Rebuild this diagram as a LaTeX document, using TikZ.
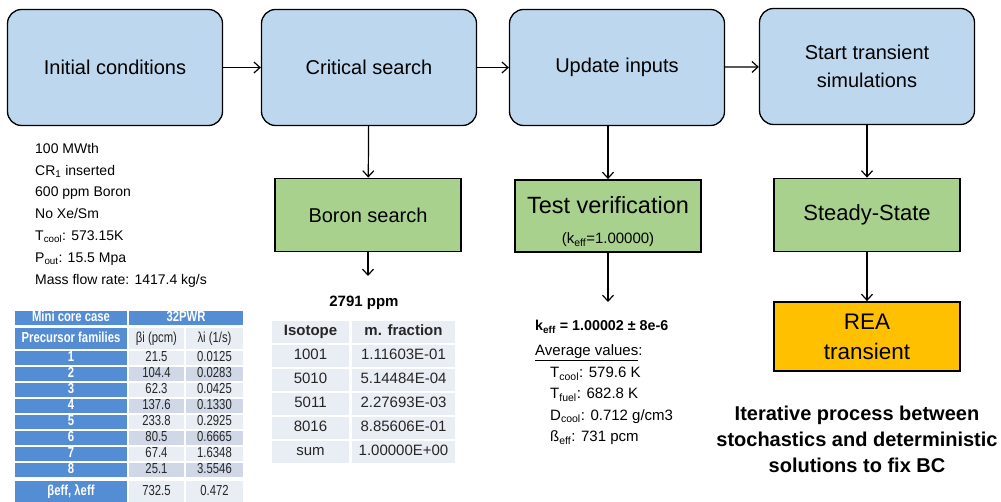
\documentclass[tikz,border=0pt]{standalone}
\usepackage{fontspec}
\usetikzlibrary{arrows.meta}
\setmainfont{Liberation Sans}
\newfontfamily\narrowfont[FakeStretch=0.78]{Liberation Sans}

\definecolor{boxblue}{RGB}{189,215,238}
\definecolor{boxgreen}{RGB}{169,209,142}
\definecolor{boxorange}{RGB}{255,192,0}
\definecolor{tabhead}{RGB}{84,141,212}
\definecolor{tablight}{RGB}{233,237,244}
\definecolor{tabdark}{RGB}{208,216,232}
\definecolor{ink}{RGB}{38,38,38}

\tikzset{
  stage/.style={draw, line width=1.3pt, rounded corners=14pt, fill=boxblue,
    minimum width=215pt, minimum height=116pt, align=center,
    font=\fontsize{20}{28}\selectfont},
  result/.style={draw, line width=1.8pt, fill=boxgreen, minimum width=186pt,
    minimum height=73pt, align=center},
  final/.style={draw, line width=1.8pt, fill=boxorange, minimum width=186pt,
    minimum height=69pt, align=center, font=\fontsize{22.5}{30}\selectfont},
  flow/.style={-{Straight Barb[length=6pt, width=11pt]}, line width=1.2pt},
  hcell/.style={fill=tabhead, text=white, inner sep=0pt, text height=10pt,
    text depth=2.5pt, font=\narrowfont\bfseries\fontsize{14.5}{16}\selectfont},
  dcell/.style={inner sep=0pt, text=ink, text height=10pt, text depth=2.5pt,
    font=\narrowfont\fontsize{14.5}{16}\selectfont},
  tcell/.style={fill=tablight, inner sep=0pt, text=ink, minimum height=22pt,
    text height=10.5pt, text depth=3pt, font=\fontsize{15}{18}\selectfont}
}

\begin{document}
\begin{tikzpicture}[x=1pt, y=-1pt]
  \useasboundingbox (0,0) rectangle (1001,502);

  \node[stage] (init) at (115,67.5) {Initial conditions};
  \node[stage] (crit) at (369,67.5) {Critical search};
  \node[stage] (upd) at (617,67.5) {Update inputs};
  \node[stage] (start) at (867,66.5) {Start transient\\simulations};

  \node[result, font=\fontsize{20}{24}\selectfont] (boron) at (368,215) {Boron search};
  \node[result, minimum height=72pt, font=\fontsize{23.5}{30}\selectfont] (test) at (608,216)
    {\rule{0pt}{29pt}Test verification\\{\fontsize{15}{18}\selectfont (k\textsubscript{eff}=1.00000)}};
  \node[result, font=\fontsize{22}{28}\selectfont] (steady) at (867,215) {Steady-State};
  \node[final] (rea) at (867,336.5) {REA\\transient};

  \coordinate (boronout) at (368,276);
  \coordinate (testout) at (608,302);

  \draw[flow] (init) -- (crit);
  \draw[flow] (crit) -- (upd);
  \draw[flow] (upd) -- (start);
  \draw[flow] (crit) -- (boron);
  \draw[flow] (test.north |- upd.south) -- (test.north);
  \draw[flow] (start) -- (steady);
  \draw[flow] (boron) -- (boronout);
  \draw[flow] (test) -- (testout);
  \draw[flow] (steady) -- (rea);

  \node[anchor=north west, align=left, inner sep=0pt,
    font=\fontsize{14}{21.8}\selectfont] (cond) at (35,143)
    {100 MWth\\CR\textsubscript{1} inserted\\600 ppm Boron\\No Xe/Sm\\
     T\textsubscript{cool}: 573.15K\\P\textsubscript{out}: 15.5 Mpa\\
     Mass flow rate: 1417.4 kg/s};

  \node[hcell, minimum width=112pt, minimum height=14pt] (case) at (71,318) {Mini core case};
  \node[hcell, minimum width=114pt, minimum height=14pt] (core) at (186,318) {32PWR};
  \node[hcell, minimum width=112pt, minimum height=21pt] (fam0) at (71,339) {Precursor families};
  \node[dcell, fill=tablight, minimum width=55pt, minimum height=21pt] (beta0) at (156.5,339) {βi (pcm)};
  \node[dcell, fill=tablight, minimum width=57pt, minimum height=21pt] (lam0) at (214.5,339) {λi (1/s)};
  \foreach \b/\l [count=\i] in {21.5/0.0125, 104.4/0.0283, 62.3/0.0425,
      137.6/0.1330, 233.8/0.2925, 80.5/0.6665, 67.4/1.6348, 25.1/3.5546} {
    \ifodd\i \def\shade{tablight}\else \def\shade{tabdark}\fi
    \node[hcell, minimum width=112pt, minimum height=14.5pt] (fam\i) at (71,{342+16*\i}) {\i};
    \node[dcell, fill=\shade, minimum width=55pt, minimum height=14.5pt] (beta\i) at (156.5,{342+16*\i}) {\b};
    \node[dcell, fill=\shade, minimum width=57pt, minimum height=14.5pt] (lam\i) at (214.5,{342+16*\i}) {\l};
  }
  \node[hcell, minimum width=112pt, minimum height=22pt] (fam9) at (71,492) {βeff, λeff};
  \node[dcell, fill=tablight, minimum width=55pt, minimum height=22pt] (beta9) at (156.5,492) {732.5};
  \node[dcell, fill=tablight, minimum width=57pt, minimum height=22pt] (lam9) at (214.5,492) {0.472};

  \node[font=\bfseries\fontsize{15}{18}\selectfont] (ppm) at (364,303) {2791 ppm};
  \node[tcell, minimum width=77pt] (iso0) at (310.5,332) {\bfseries Isotope};
  \node[tcell, minimum width=103pt] (mf0) at (403.5,332) {\bfseries m. fraction};
  \foreach \iso/\mf [count=\i] in {1001/1.11603E-01, 5010/5.14484E-04,
      5011/2.27693E-03, 8016/8.85606E-01, sum/1.00000E+00} {
    \node[tcell, minimum width=77pt] (iso\i) at (310.5,{332+24*\i}) {\iso};
    \node[tcell, minimum width=103pt] (mf\i) at (403.5,{332+24*\i}) {\mf};
  }

  \node[anchor=west, inner sep=0pt, font=\bfseries\fontsize{14.3}{18}\selectfont] (keff) at (535,327)
    {k\textsubscript{eff} = 1.00002 ± 8e-6};
  \node[anchor=west, inner sep=0pt, font=\fontsize{15}{18}\selectfont] (avg) at (535,353)
    {\underline{Average values}:};
  \node[anchor=north west, align=left, inner sep=0pt,
    font=\fontsize{15}{21.3}\selectfont] (vals) at (550,367)
    {T\textsubscript{cool}: 579.6 K\\T\textsubscript{fuel}: 682.8 K\\
     D\textsubscript{cool}: 0.712 g/cm3\\ß\textsubscript{eff}: 731 pcm};

  \node[align=center, font=\bfseries\fontsize{20}{26}\selectfont] (note) at (857,439)
    {Iterative process between\\stochastics and deterministic\\solutions to fix BC};
\end{tikzpicture}
\end{document}
